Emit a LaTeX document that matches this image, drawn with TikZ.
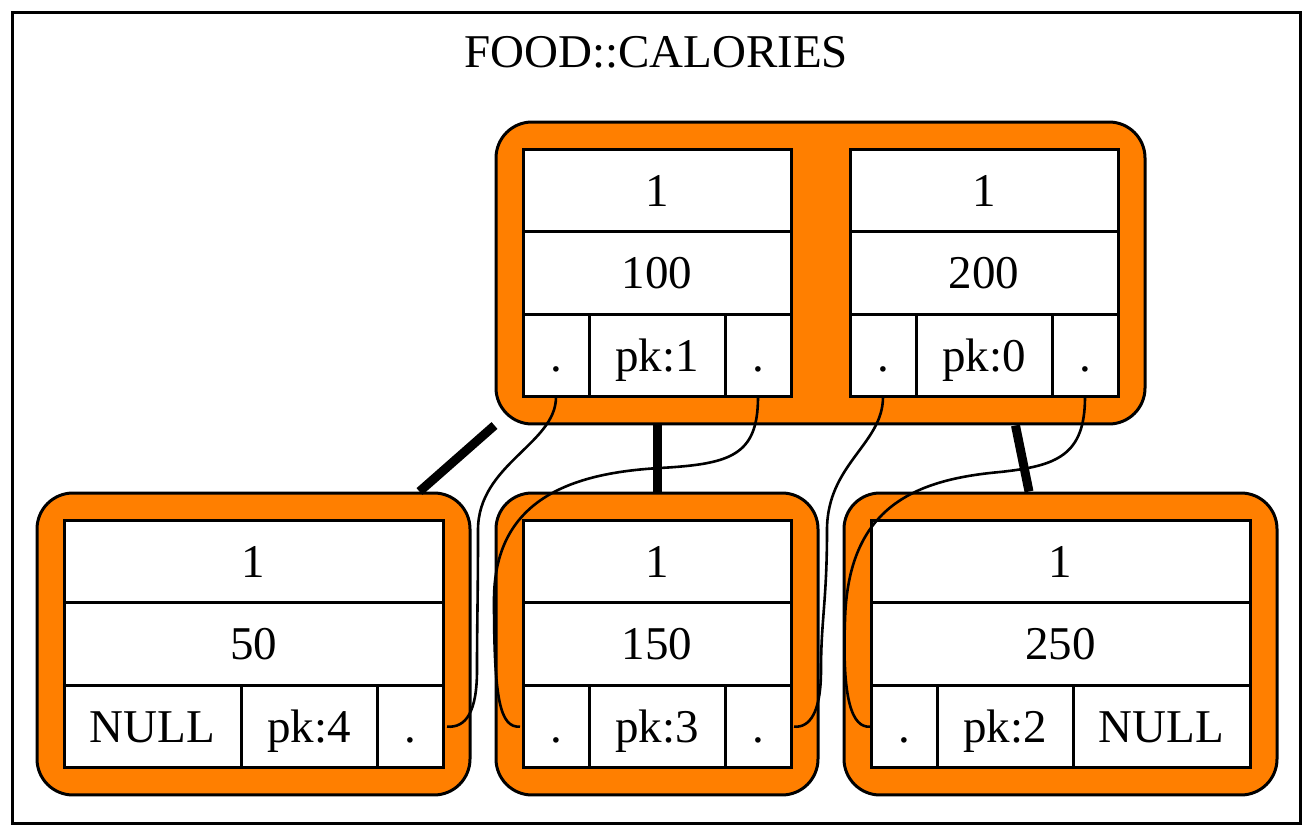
\documentclass[tikz,border=0pt]{standalone}
\usepackage{fontspec}
\setmainfont{Liberation Serif}
\usetikzlibrary{positioning,fit,backgrounds}
\definecolor{nodeorange}{RGB}{255,127,0}

\begin{document}
\begin{tikzpicture}[
  x=1pt, y=-1pt,
  font=\fontsize{23.5}{28}\selectfont,
  cell/.style={
    draw,
    fill=white,
    line width=1.5pt,
    inner sep=0pt,
    outer sep=0pt,
    minimum height=41.33pt,
    text height=15.9pt,
    text depth=0pt
  },
  row/.style={cell, minimum width=134pt},
  widerow/.style={cell, minimum width=189.5pt},
  ptr/.style={cell, minimum width=33pt},
  key/.style={cell, minimum width=68pt},
  null/.style={cell, minimum width=88.5pt},
  treenode/.style={
    draw,
    fill=nodeorange,
    line width=1.5pt,
    rounded corners=18pt,
    inner sep=13.5pt
  },
  link/.style={line width=4.5pt},
  thread/.style={line width=1.3pt}
]
\useasboundingbox (0,0) rectangle (656,417.5);
\draw[line width=1.5pt] (6,6) rectangle (650,411.5);
\node[anchor=base] (title) at (328,33.5) {FOOD::CALORIES};
% root
\node[row, anchor=north west] (c100) at (261.5,74.5) {1};
\node[row, below=0pt of c100] (v100) {100};
\node[ptr, anchor=north west] (l100) at (v100.south west) {.};
\node[key, right=0pt of l100] (p100) {pk:1};
\node[ptr, right=0pt of p100] (r100) {.};
\node[row, anchor=north west] (c200) at (425,74.5) {1};
\node[row, below=0pt of c200] (v200) {200};
\node[ptr, anchor=north west] (l200) at (v200.south west) {.};
\node[key, right=0pt of l200] (p200) {pk:0};
\node[ptr, right=0pt of p200] (r200) {.};
% leaves
\node[widerow, anchor=north west] (c50) at (32,260) {1};
\node[widerow, below=0pt of c50] (v50) {50};
\node[null, anchor=north west] (l50) at (v50.south west) {NULL};
\node[key, right=0pt of l50] (p50) {pk:4};
\node[ptr, right=0pt of p50] (r50) {.};
\node[row, anchor=north west] (c150) at (261.5,260) {1};
\node[row, below=0pt of c150] (v150) {150};
\node[ptr, anchor=north west] (l150) at (v150.south west) {.};
\node[key, right=0pt of l150] (p150) {pk:3};
\node[ptr, right=0pt of p150] (r150) {.};
\node[widerow, anchor=north west] (c250) at (435.5,260) {1};
\node[widerow, below=0pt of c250] (v250) {250};
\node[ptr, anchor=north west] (l250) at (v250.south west) {.};
\node[key, right=0pt of l250] (p250) {pk:2};
\node[null, right=0pt of p250] (r250) {NULL};
\begin{scope}[on background layer]
\node[treenode, fit=(c100)(r200)] (root) {};
\node[treenode, fit=(c50)(r50)] (n50) {};
\node[treenode, fit=(c150)(r150)] (n150) {};
\node[treenode, fit=(c250)(r250)] (n250) {};
\end{scope}
% tree edges
\draw[link] (root.south west) -- ([xshift=-26pt]n50.north east);
\draw[link] (root.south -| n150.north) -- (n150.north);
\draw[link] ([xshift=97.5pt]root.south) -- ([xshift=-15.75pt]n250.north);
% leaf threads
\draw[thread] (l100.south) .. controls (278,222) and (239,232) .. (239,265)
  .. controls (239,300) and (238.5,310) .. (238.5,335)
  .. controls (238.5,356) and (233,364) .. ([xshift=2pt]r50.east);
\draw[thread] (r100.south) .. controls (379,228) and (365,232) .. (330,234)
  .. controls (285,236.5) and (247,250) .. (247,300)
  .. controls (247,350) and (250,364) .. ([xshift=-1.5pt]l150.west);
\draw[thread] (l200.south) .. controls (441.5,222) and (413.5,232) .. (413.5,265)
  .. controls (413.5,300) and (410.5,310) .. (410.5,335)
  .. controls (410.5,356) and (405,364) .. ([xshift=1.5pt]r150.east);
\draw[thread] (r200.south) .. controls (542.5,228) and (528,233) .. (500,236)
  .. controls (455,240) and (424,255) .. (422.5,310)
  .. controls (421,350) and (426,364) .. ([xshift=-0.5pt]l250.west);
\end{tikzpicture}
\end{document}
